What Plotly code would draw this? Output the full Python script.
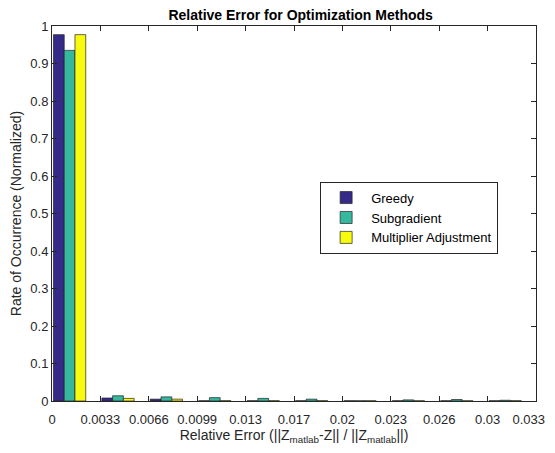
import plotly.graph_objects as go

bin_centers = [0.0012, 0.0045, 0.0078, 0.0111, 0.0144, 0.0177, 0.0210, 0.0243, 0.0276, 0.0309]
greedy = [0.977, 0.008, 0.005, 0.0006, 0.0006, 0.0006, 0.0006, 0.0006, 0.0006, 0.0006]
subgradient = [0.935, 0.014, 0.011, 0.009, 0.007, 0.005, 0.0006, 0.003, 0.004, 0.002]
multiplier = [0.977, 0.007, 0.005, 0.0008, 0.0008, 0.0008, 0.0006, 0.0006, 0.0006, 0.0008]

series_names = ["Greedy", "Subgradient", "Multiplier Adjustment"]
series_colors = ["#352A87", "#35B89E", "#F9FB0E"]

x_tickvals = [0, 0.0033, 0.0066, 0.0099, 0.0132, 0.0165, 0.0198, 0.0231, 0.0264, 0.0297, 0.033]
x_ticktext = ["0", "0.0033", "0.0066", "0.0099", "0.013", "0.017", "0.02", "0.023", "0.026", "0.03",
              "0.033\u00a0\u00a0\u00a0\u00a0"]
y_tickvals = [i / 10 for i in range(11)]
y_ticktext = ["0", "0.1", "0.2", "0.3", "0.4", "0.5", "0.6", "0.7", "0.8", "0.9", "1"]

fig = go.Figure()
for name, vals, col in zip(series_names, [greedy, subgradient, multiplier], series_colors):
    fig.add_trace(go.Bar(x=bin_centers, y=vals, name=name,
                         marker=dict(color=col, line=dict(color="#222222", width=0.7))))

font = "Liberation Sans, Arial, sans-serif"
fig.update_layout(
    width=547, height=437,
    margin=dict(l=44, r=19, t=18, b=44),
    paper_bgcolor="white", plot_bgcolor="white",
    barmode="group", bargap=0.333, bargroupgap=0,
    font=dict(family=font, size=13, color="#262626"),
    title=dict(text="<b>Relative Error for Optimization Methods</b>", x=0.535, xanchor="center",
               y=0.994, yanchor="top", font=dict(size=14, color="black")),
    legend=dict(x=0.554, y=0.585, xanchor="left", yanchor="top",
                bgcolor="white", bordercolor="#262626", borderwidth=1,
                font=dict(size=13, color="black"), tracegroupgap=0,
                itemwidth=40, traceorder="normal"),
    showlegend=True,
)
fig.update_xaxes(range=[0, 0.033], tickvals=x_tickvals, ticktext=x_ticktext,
                 ticks="inside", ticklen=5, tickcolor="#262626", automargin=False,
                 ticklabelstandoff=6, ticklabeloverflow="allow",
                 showline=True, linecolor="#262626", linewidth=1, mirror="ticks",
                 showgrid=False, zeroline=False, tickfont=dict(size=13),
                 title=dict(text="Relative Error (||Z<sub>matlab</sub>-Z|| / ||Z<sub>matlab</sub>||)",
                            font=dict(size=14), standoff=3))
fig.update_yaxes(range=[0, 1], tickvals=y_tickvals, ticktext=y_ticktext,
                 ticks="inside", ticklen=5, tickcolor="#262626", automargin=False,
                 showline=True, linecolor="#262626", linewidth=1, mirror="ticks",
                 showgrid=False, zeroline=False, tickfont=dict(size=13),
                 title=dict(text="Rate of Occurrence (Normalized)", font=dict(size=14), standoff=10))

fig.write_html("out.html")
